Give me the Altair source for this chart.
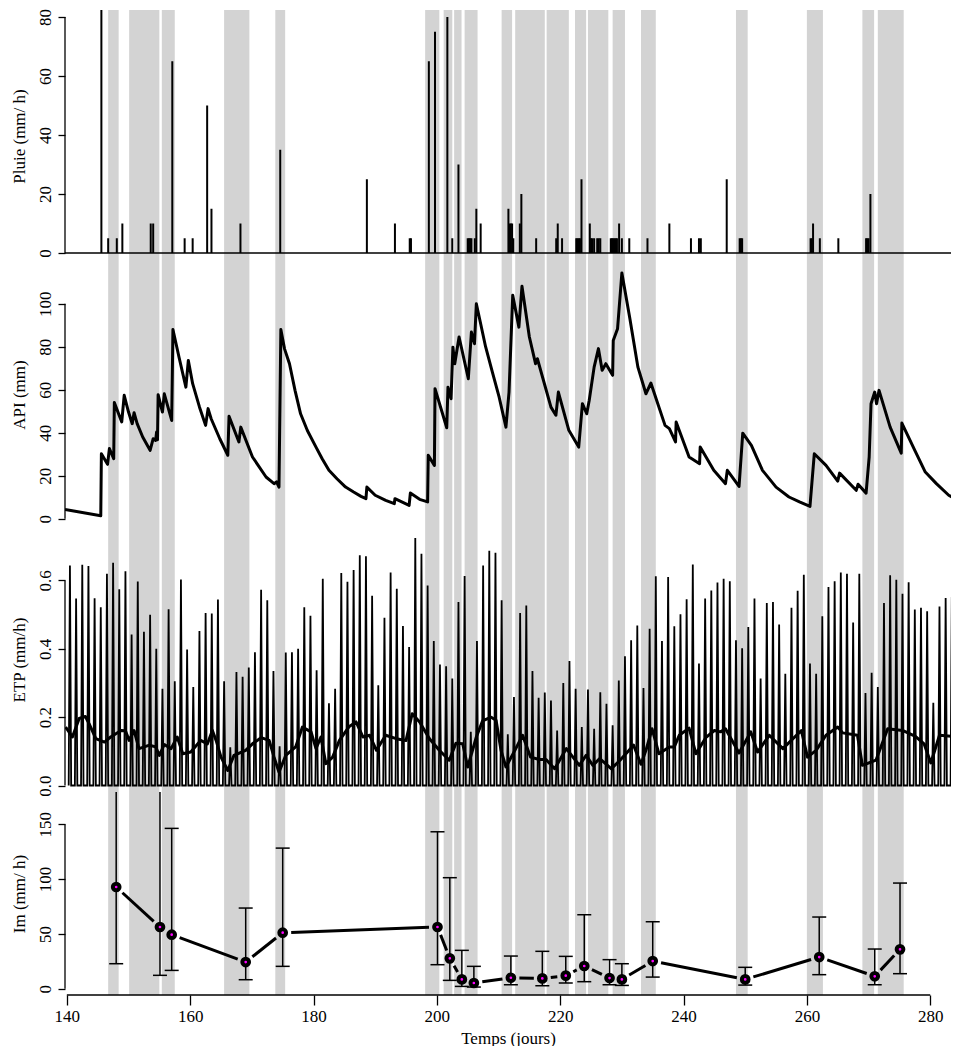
import math
import altair as alt
import pandas as pd

# ---------------- data ----------------
band_start = [146.7, 150.1, 155.4, 165.5, 173.8, 198.1, 201.1, 202.8, 204.5, 210.5,
              212.7, 217.8, 222.4, 224.5, 228.5, 233.1, 248.5, 260.0, 269.0, 271.5]
band_end = [148.4, 155.0, 157.5, 169.6, 175.4, 200.4, 202.5, 204.0, 206.6, 212.2,
            217.5, 221.4, 224.2, 227.8, 230.5, 235.5, 250.4, 262.6, 270.9, 275.7]

rain_t = [145.6, 146.7, 148.1, 149.0, 153.6, 154.0, 157.1, 159.1, 160.4, 162.75,
          163.45, 168.15, 174.6, 188.65, 193.2, 195.6, 195.8, 198.7, 199.7, 201.7,
          202.5, 203.5, 205.0, 205.2, 205.4, 205.6, 206.15, 206.4, 207.1, 211.6,
          211.8, 212.0, 212.2, 212.4, 213.45, 213.7, 216.1, 219.35, 219.6, 220.3,
          222.6, 222.8, 223.0, 223.2, 223.45, 224.8, 225.0, 225.2, 225.5, 226.0,
          226.25, 226.5, 228.2, 228.4, 228.6, 228.8, 229.0, 229.2, 229.55, 230.0,
          231.2, 234.15, 237.7, 241.2, 242.5, 242.8, 247.0, 249.1, 249.3, 249.5,
          260.6, 260.8, 261.0, 262.1, 265.1, 269.6, 269.8, 270.0, 270.3]
rain_v = [100, 5, 5, 10, 10, 10, 65, 5, 5, 50,
          15, 10, 35, 25, 10, 5, 5, 65, 75, 80,
          5, 30, 5, 5, 5, 5, 5, 15, 10, 15,
          10, 10, 10, 5, 10, 20, 5, 5, 10, 5,
          5, 5, 5, 5, 25, 10, 5, 5, 5, 5,
          5, 5, 5, 5, 5, 5, 5, 5, 10, 5,
          5, 5, 10, 5, 5, 5, 25, 5, 5, 5,
          5, 5, 10, 5, 5, 5, 5, 5, 20]

api_t = [139.7, 145.5, 145.6, 146.6, 146.9, 147.6, 147.7, 148.9, 149.3, 150.0,
         150.6, 150.9, 151.4, 152.3, 153.5, 154.0, 154.4, 154.55, 154.7, 154.8,
         155.5, 155.8, 157.0, 157.2, 158.2, 159.3, 159.7, 160.4, 161.5, 162.5,
         162.9, 163.4, 164.8, 166.1, 166.3, 167.9, 168.2, 170.1, 172.3, 173.6,
         174.0, 174.4, 174.7, 175.3, 176.1, 177.0, 177.9, 179.0, 180.4, 181.4,
         182.5, 183.8, 185.2, 186.5, 187.7, 188.5, 188.65, 190.0, 191.7, 193.1,
         193.2, 195.5, 195.7, 197.2, 198.5, 198.6, 199.6, 199.7, 201.6, 201.8,
         202.3, 202.6, 202.9, 203.6, 205.1, 205.6, 206.1, 206.4, 207.1, 207.9,
         209.0, 210.1, 211.2, 211.7, 212.3, 213.3, 213.8, 215.0, 216.0, 216.3,
         218.5, 219.3, 219.7, 221.4, 223.0, 223.6, 224.3, 224.7, 225.5, 226.2,
         226.8, 227.4, 228.5, 228.6, 229.3, 230.0, 231.3, 232.6, 233.9, 234.7,
         237.0, 237.7, 238.7, 238.8, 240.9, 242.6, 242.7, 244.9, 246.8, 247.1,
         249.0, 249.6, 251.0, 252.8, 255.0, 257.1, 258.8, 260.5, 261.2, 263.1,
         265.0, 265.3, 268.0, 268.3, 269.6, 270.1, 270.4, 271.0, 271.3, 271.7,
         273.5, 275.3, 275.4, 277.5, 279.2, 281.0, 283.0, 284.9]
api_v = [4.3, 1.4, 30.2, 25.3, 32.6, 27.9, 54.0, 45.0, 57.4, 49.6,
         44.2, 49.3, 44.2, 38.0, 31.8, 37.2, 36.4, 40.3, 36.7, 57.7,
         49.6, 58.1, 45.7, 88.0, 75.0, 61.2, 73.6, 62.8, 52.0, 43.4,
         51.2, 46.5, 37.2, 29.5, 47.6, 35.7, 42.6, 28.7, 19.4, 16.3,
         17.1, 14.7, 88.0, 79.0, 72.1, 59.7, 48.8, 41.0, 33.3, 27.9,
         22.5, 18.6, 14.7, 12.4, 10.4, 9.3, 14.7, 10.9, 8.5, 7.0,
         9.3, 6.2, 11.9, 9.0, 7.8, 29.5, 24.8, 60.5, 42.3, 61.2,
         55.8, 79.8, 72.1, 84.5, 65.1, 86.8, 81.4, 100.0, 90.7, 80.0,
         68.2, 56.5, 42.6, 58.9, 103.9, 89.1, 108.1, 84.5, 72.1, 74.4,
         51.9, 48.1, 58.9, 41.1, 33.3, 53.5, 48.8, 55.0, 70.5, 79.1,
         69.0, 72.1, 66.7, 82.9, 88.4, 114.3, 93.0, 70.5, 58.1, 63.1,
         43.4, 41.9, 35.7, 45.0, 28.7, 25.6, 33.3, 22.5, 16.3, 22.5,
         15.0, 39.8, 34.1, 22.5, 14.7, 10.1, 7.8, 5.7, 30.2, 24.8,
         17.5, 21.2, 13.2, 16.0, 11.9, 28.7, 53.5, 58.9, 53.5, 59.7,
         42.6, 30.5, 44.5, 31.8, 21.7, 16.3, 10.9, 7.8]

etp_first_day = 140
etp_peak = [0.644, 0.547, 0.646, 0.642, 0.548, 0.522, 0.620, 0.652, 0.574, 0.627,   # 140-149
            0.442, 0.597, 0.450, 0.500, 0.400, 0.283, 0.516, 0.305, 0.603, 0.398,   # 150-159
            0.288, 0.452, 0.505, 0.503, 0.544, 0.305, 0.112, 0.332, 0.318, 0.345,   # 160-169
            0.390, 0.573, 0.542, 0.335, 0.115, 0.389, 0.390, 0.400, 0.522, 0.497,   # 170-179
            0.337, 0.605, 0.241, 0.283, 0.622, 0.596, 0.631, 0.674, 0.671, 0.555,   # 180-189
            0.293, 0.491, 0.623, 0.576, 0.467, 0.405, 0.724, 0.678, 0.585, 0.423,   # 190-199
            0.354, 0.349, 0.313, 0.537, 0.613, 0.157, 0.423, 0.644, 0.687, 0.681,   # 200-209
            0.542, 0.150, 0.259, 0.505, 0.527, 0.335, 0.257, 0.272, 0.249, 0.161,   # 210-219
            0.300, 0.364, 0.283, 0.171, 0.281, 0.166, 0.273, 0.239, 0.176, 0.307,   # 220-229
            0.378, 0.425, 0.468, 0.285, 0.459, 0.612, 0.423, 0.610, 0.466, 0.501,   # 230-239
            0.545, 0.647, 0.357, 0.547, 0.571, 0.594, 0.605, 0.598, 0.425, 0.402,   # 240-249
            0.464, 0.547, 0.313, 0.534, 0.537, 0.471, 0.327, 0.520, 0.570, 0.617,   # 250-259
            0.357, 0.327, 0.495, 0.581, 0.598, 0.623, 0.620, 0.477, 0.620, 0.271,   # 260-269
            0.330, 0.288, 0.534, 0.615, 0.602, 0.561, 0.595, 0.515, 0.520, 0.510,   # 270-279
            0.242, 0.524, 0.549, 0.552, 0.522]                                      # 280-284

etp_mean_t = [139.8, 140.9, 142.0, 143.0, 143.6, 144.7, 146.1, 147.1, 148.8, 149.5,
              150.1, 150.9, 151.7, 153.4, 154.4, 155.0, 155.8, 156.9, 157.9, 158.8,
              160.1, 161.7, 162.8, 163.6, 164.2, 165.0, 166.1, 167.1, 169.0, 170.1,
              171.5, 172.8, 173.6, 174.4, 175.5, 177.1, 178.2, 179.6, 180.4, 181.2,
              182.0, 183.1, 184.2, 185.8, 186.9, 188.0, 189.1, 190.2, 191.7, 193.4,
              195.0, 196.0, 197.2, 198.8, 200.4, 202.0, 203.1, 204.2, 205.0, 206.4,
              207.4, 208.8, 209.6, 210.4, 211.2, 212.8, 213.9, 215.2, 216.6, 217.7,
              219.1, 221.0, 223.1, 224.2, 225.3, 226.4, 228.3, 229.7, 231.9, 233.1,
              233.9, 234.9, 236.0, 237.7, 238.5, 239.3, 240.9, 242.0, 243.6, 245.0,
              246.0, 246.8, 249.0, 250.9, 252.0, 253.9, 256.1, 259.1, 260.1, 261.5,
              263.1, 265.0, 265.8, 268.2, 269.0, 271.2, 273.1, 275.5, 277.6, 279.0,
              280.1, 281.5, 284.7]
etp_mean_v = [0.171, 0.142, 0.196, 0.202, 0.181, 0.137, 0.127, 0.142, 0.161, 0.160,
              0.132, 0.161, 0.108, 0.118, 0.113, 0.088, 0.120, 0.108, 0.142, 0.093,
              0.098, 0.132, 0.122, 0.161, 0.132, 0.083, 0.044, 0.088, 0.103, 0.122,
              0.140, 0.132, 0.083, 0.039, 0.088, 0.113, 0.171, 0.157, 0.108, 0.142,
              0.064, 0.083, 0.132, 0.173, 0.186, 0.142, 0.147, 0.103, 0.147, 0.137,
              0.132, 0.210, 0.186, 0.137, 0.103, 0.074, 0.124, 0.122, 0.054, 0.142,
              0.189, 0.200, 0.191, 0.103, 0.054, 0.108, 0.147, 0.083, 0.076, 0.076,
              0.049, 0.108, 0.059, 0.088, 0.059, 0.079, 0.049, 0.074, 0.118, 0.062,
              0.103, 0.166, 0.093, 0.113, 0.113, 0.147, 0.168, 0.093, 0.140, 0.161,
              0.157, 0.166, 0.095, 0.157, 0.098, 0.147, 0.108, 0.161, 0.083, 0.103,
              0.147, 0.171, 0.154, 0.147, 0.059, 0.074, 0.166, 0.161, 0.144, 0.122,
              0.066, 0.147, 0.142]

im_t = [148.0, 155.1, 157.0, 169.0, 175.0, 200.1, 202.1, 204.05, 206.0, 212.0,
        217.1, 220.9, 223.9, 228.0, 230.0, 235.0, 250.0, 262.0, 271.0, 275.1]
im_v = [92.8, 56.3, 49.3, 24.3, 51.1, 56.3, 27.7, 8.5, 5.2, 10.0,
        9.4, 11.9, 20.7, 9.7, 8.5, 25.2, 8.5, 28.9, 11.3, 35.9]
im_lo = [22.8, 12.2, 16.7, 8.2, 20.4, 21.9, 7.6, 2.1, 1.5, 3.6,
         2.7, 5.2, 6.4, 3.6, 3.0, 10.6, 3.3, 12.8, 3.6, 13.7]
im_hi = [200.0, 200.0, 146.3, 73.6, 128.3, 143.2, 101.3, 35.0, 20.4, 29.8,
         34.1, 29.5, 67.5, 26.5, 22.8, 61.1, 19.5, 65.4, 36.2, 96.4]

y1_ticks = [0, 20, 40, 60, 80]
y2_ticks = [0, 20, 40, 60, 80, 100]
y3_ticks = [0.0, 0.2, 0.4, 0.6]
y4_ticks = [0, 50, 100, 150]
x_ticks = [140, 160, 180, 200, 220, 240, 260, 280]

assert len(rain_t) == len(rain_v)
assert len(api_t) == len(api_v)
assert len(etp_mean_t) == len(etp_mean_v)
assert len(etp_peak) == 145

# ---------------- layout ----------------
W = 886
H1, H2, H3, H4 = 252, 265, 265, 203
PX_PER_DAY = 6.167
X_DOM = [139.7, 139.7 + W / PX_PER_DAY]
Y4_DOM = [-5.75, 179.5]
FONT = "Liberation Serif"
FS = 17
GREY = "#d3d3d3"

xs = alt.Scale(domain=X_DOM, nice=False, zero=False)


def yaxis(title, values, fmt=None):
    kw = dict(title=title, values=values, domain=False, grid=False,
              tickSize=7, tickWidth=1.3, tickColor="black",
              labelAngle=270, labelAlign="center", labelBaseline="alphabetic",
              labelPadding=8, labelFont=FONT, labelFontSize=FS, labelColor="black",
              labelOverlap=False,
              titleFont=FONT, titleFontSize=FS, titleFontWeight="normal",
              titleColor="black", titlePadding=8)
    if fmt:
        kw["format"] = fmt
    return alt.Axis(**kw)


xaxis4 = alt.Axis(title="Temps (jours)", values=x_ticks, domain=False, grid=False,
                  tickSize=10, tickWidth=1.3, tickColor="black", labelFlush=False,
                  labelPadding=3, labelFont=FONT, labelFontSize=FS, labelColor="black",
                  labelOverlap=False,
                  titleFont=FONT, titleFontSize=FS, titleFontWeight="normal",
                  titleColor="black", titlePadding=6)

bands = pd.DataFrame({"start": band_start, "end": band_end})


def band_layer(h, xax):
    return alt.Chart(bands).mark_rect(color=GREY, clip=True).encode(
        x=alt.X("start:Q", scale=xs, axis=xax), x2="end:Q",
        y=alt.value(0), y2=alt.value(h))


def yaxis_line(lo, hi, ys, yax, xax):
    d = pd.DataFrame({"lo": [lo], "hi": [hi], "x": [X_DOM[0]]})
    return alt.Chart(d).mark_rule(color="black", strokeWidth=1.3).encode(
        x=alt.X("x:Q", scale=xs, axis=xax),
        y=alt.Y("lo:Q", scale=ys, axis=yax), y2="hi:Q")


# ---- panel 1: rain ----
ys1 = alt.Scale(domain=[-3.05, 82.37], nice=False, zero=False)
ax1 = yaxis("Pluie (mm/ h)", y1_ticks)
rain = pd.DataFrame({"t": rain_t, "v": rain_v, "z": 0})
zero1 = pd.DataFrame({"a": [X_DOM[0]], "b": [X_DOM[1]], "z": [0]})
p1 = alt.layer(
    band_layer(H1, None),
    alt.Chart(zero1).mark_rule(color="black", strokeWidth=1.5).encode(
        x=alt.X("a:Q", scale=xs, axis=None), x2="b:Q",
        y=alt.Y("z:Q", scale=ys1, axis=ax1)),
    alt.Chart(rain).mark_rule(color="black", strokeWidth=2, clip=True).encode(
        x=alt.X("t:Q", scale=xs, axis=None),
        y=alt.Y("v:Q", scale=ys1, axis=ax1), y2="z:Q"),
    yaxis_line(0, 80, ys1, ax1, None),
).properties(width=W, height=H1)

# ---- panel 2: API ----
ys2 = alt.Scale(domain=[-3.86, 119.4], nice=False, zero=False)
ax2 = yaxis("API (mm)", y2_ticks)
api = pd.DataFrame({"t": api_t, "v": api_v})
p2 = alt.layer(
    band_layer(H2, None),
    alt.Chart(api).mark_line(color="black", strokeWidth=3, clip=True,
                             strokeJoin="round").encode(
        x=alt.X("t:Q", scale=xs, axis=None),
        y=alt.Y("v:Q", scale=ys2, axis=ax2)),
    yaxis_line(0, 100, ys2, ax2, None),
).properties(width=W, height=H2)

# ---- panel 3: ETP ----
ys3 = alt.Scale(domain=[-0.019, 0.7565], nice=False, zero=False)
ax3 = yaxis("ETP (mm/h)", y3_ticks, ".1f")
rows = []
for i, p in enumerate(etp_peak):
    d = etp_first_day + i
    rows += [(d + 0.3, 0.0), (d + 0.5, p), (d + 0.7, 0.0)]
etp = pd.DataFrame(rows, columns=["t", "v"])
etp["o"] = range(len(etp))
etpm = pd.DataFrame({"t": etp_mean_t, "v": etp_mean_v})
p3 = alt.layer(
    band_layer(H3, None),
    alt.Chart(etp).mark_line(color="black", strokeWidth=1.8, clip=True).encode(
        x=alt.X("t:Q", scale=xs, axis=None),
        y=alt.Y("v:Q", scale=ys3, axis=ax3), order="o:Q"),
    alt.Chart(etpm).mark_line(color="black", strokeWidth=3, clip=True,
                              strokeJoin="round").encode(
        x=alt.X("t:Q", scale=xs, axis=None),
        y=alt.Y("v:Q", scale=ys3, axis=ax3)),
    yaxis_line(0, 0.6, ys3, ax3, None),
).properties(width=W, height=H3)

# ---- panel 4: Im ----
ys4 = alt.Scale(domain=Y4_DOM, nice=False, zero=False)
ax4 = yaxis("Im (mm/ h)", y4_ticks)
im = pd.DataFrame({"t": im_t, "v": im_v, "lo": im_lo, "hi": im_hi})

# connecting segments stop short of each point (type "b" look)
py = H4 / (Y4_DOM[1] - Y4_DOM[0])
GAP = 8.5
segs = []
for (t0, v0), (t1, v1) in zip(zip(im_t, im_v), zip(im_t[1:], im_v[1:])):
    dx, dy = (t1 - t0) * PX_PER_DAY, (v1 - v0) * py
    L = math.hypot(dx, dy)
    if L > 2 * GAP:
        f = GAP / L
        segs.append((t0 + f * (t1 - t0), v0 + f * (v1 - v0),
                     t1 - f * (t1 - t0), v1 - f * (v1 - v0)))
seg = pd.DataFrame(segs, columns=["ta", "va", "tb", "vb"])

xline = pd.DataFrame({"a": [140], "b": [280]})
p4 = alt.layer(
    band_layer(H4, xaxis4),
    alt.Chart(seg).mark_rule(color="black", strokeWidth=3, clip=True).encode(
        x=alt.X("ta:Q", scale=xs, axis=xaxis4), x2="tb:Q",
        y=alt.Y("va:Q", scale=ys4, axis=ax4), y2="vb:Q"),
    alt.Chart(im).mark_rule(color="black", strokeWidth=1.5, clip=True).encode(
        x=alt.X("t:Q", scale=xs, axis=xaxis4),
        y=alt.Y("lo:Q", scale=ys4, axis=ax4), y2="hi:Q"),
    alt.Chart(im).mark_rule(color="black", strokeWidth=1.5, clip=True,
                            xOffset=-7, x2Offset=7).encode(
        x=alt.X("t:Q", scale=xs, axis=xaxis4), x2="t:Q",
        y=alt.Y("hi:Q", scale=ys4, axis=ax4)),
    alt.Chart(im).mark_rule(color="black", strokeWidth=1.5, clip=True,
                            xOffset=-7, x2Offset=7).encode(
        x=alt.X("t:Q", scale=xs, axis=xaxis4), x2="t:Q",
        y=alt.Y("lo:Q", scale=ys4, axis=ax4)),
    alt.Chart(im).mark_circle(fill="#ff00ff", stroke="black", strokeWidth=4,
                              size=45, opacity=1, clip=True).encode(
        x=alt.X("t:Q", scale=xs, axis=xaxis4),
        y=alt.Y("v:Q", scale=ys4, axis=ax4)),
    yaxis_line(0, 150, ys4, ax4, xaxis4),
    alt.Chart(xline).mark_rule(color="black", strokeWidth=1.5).encode(
        x=alt.X("a:Q", scale=xs, axis=xaxis4), x2="b:Q",
        y=alt.value(H4)),
).properties(width=W, height=H4)

chart = alt.vconcat(p1, p2, p3, p4, spacing=0, bounds="flush").properties(
    padding={"left": 1, "top": 0, "right": 0, "bottom": 0},
    background="white",
).configure(font=FONT).configure_axis(
    labelFont=FONT, titleFont=FONT, titleFontWeight="normal",
    labelColor="black", titleColor="black",
).configure_view(strokeWidth=0)

chart.save("out.html", embed_options={"renderer": "svg", "actions": False})
